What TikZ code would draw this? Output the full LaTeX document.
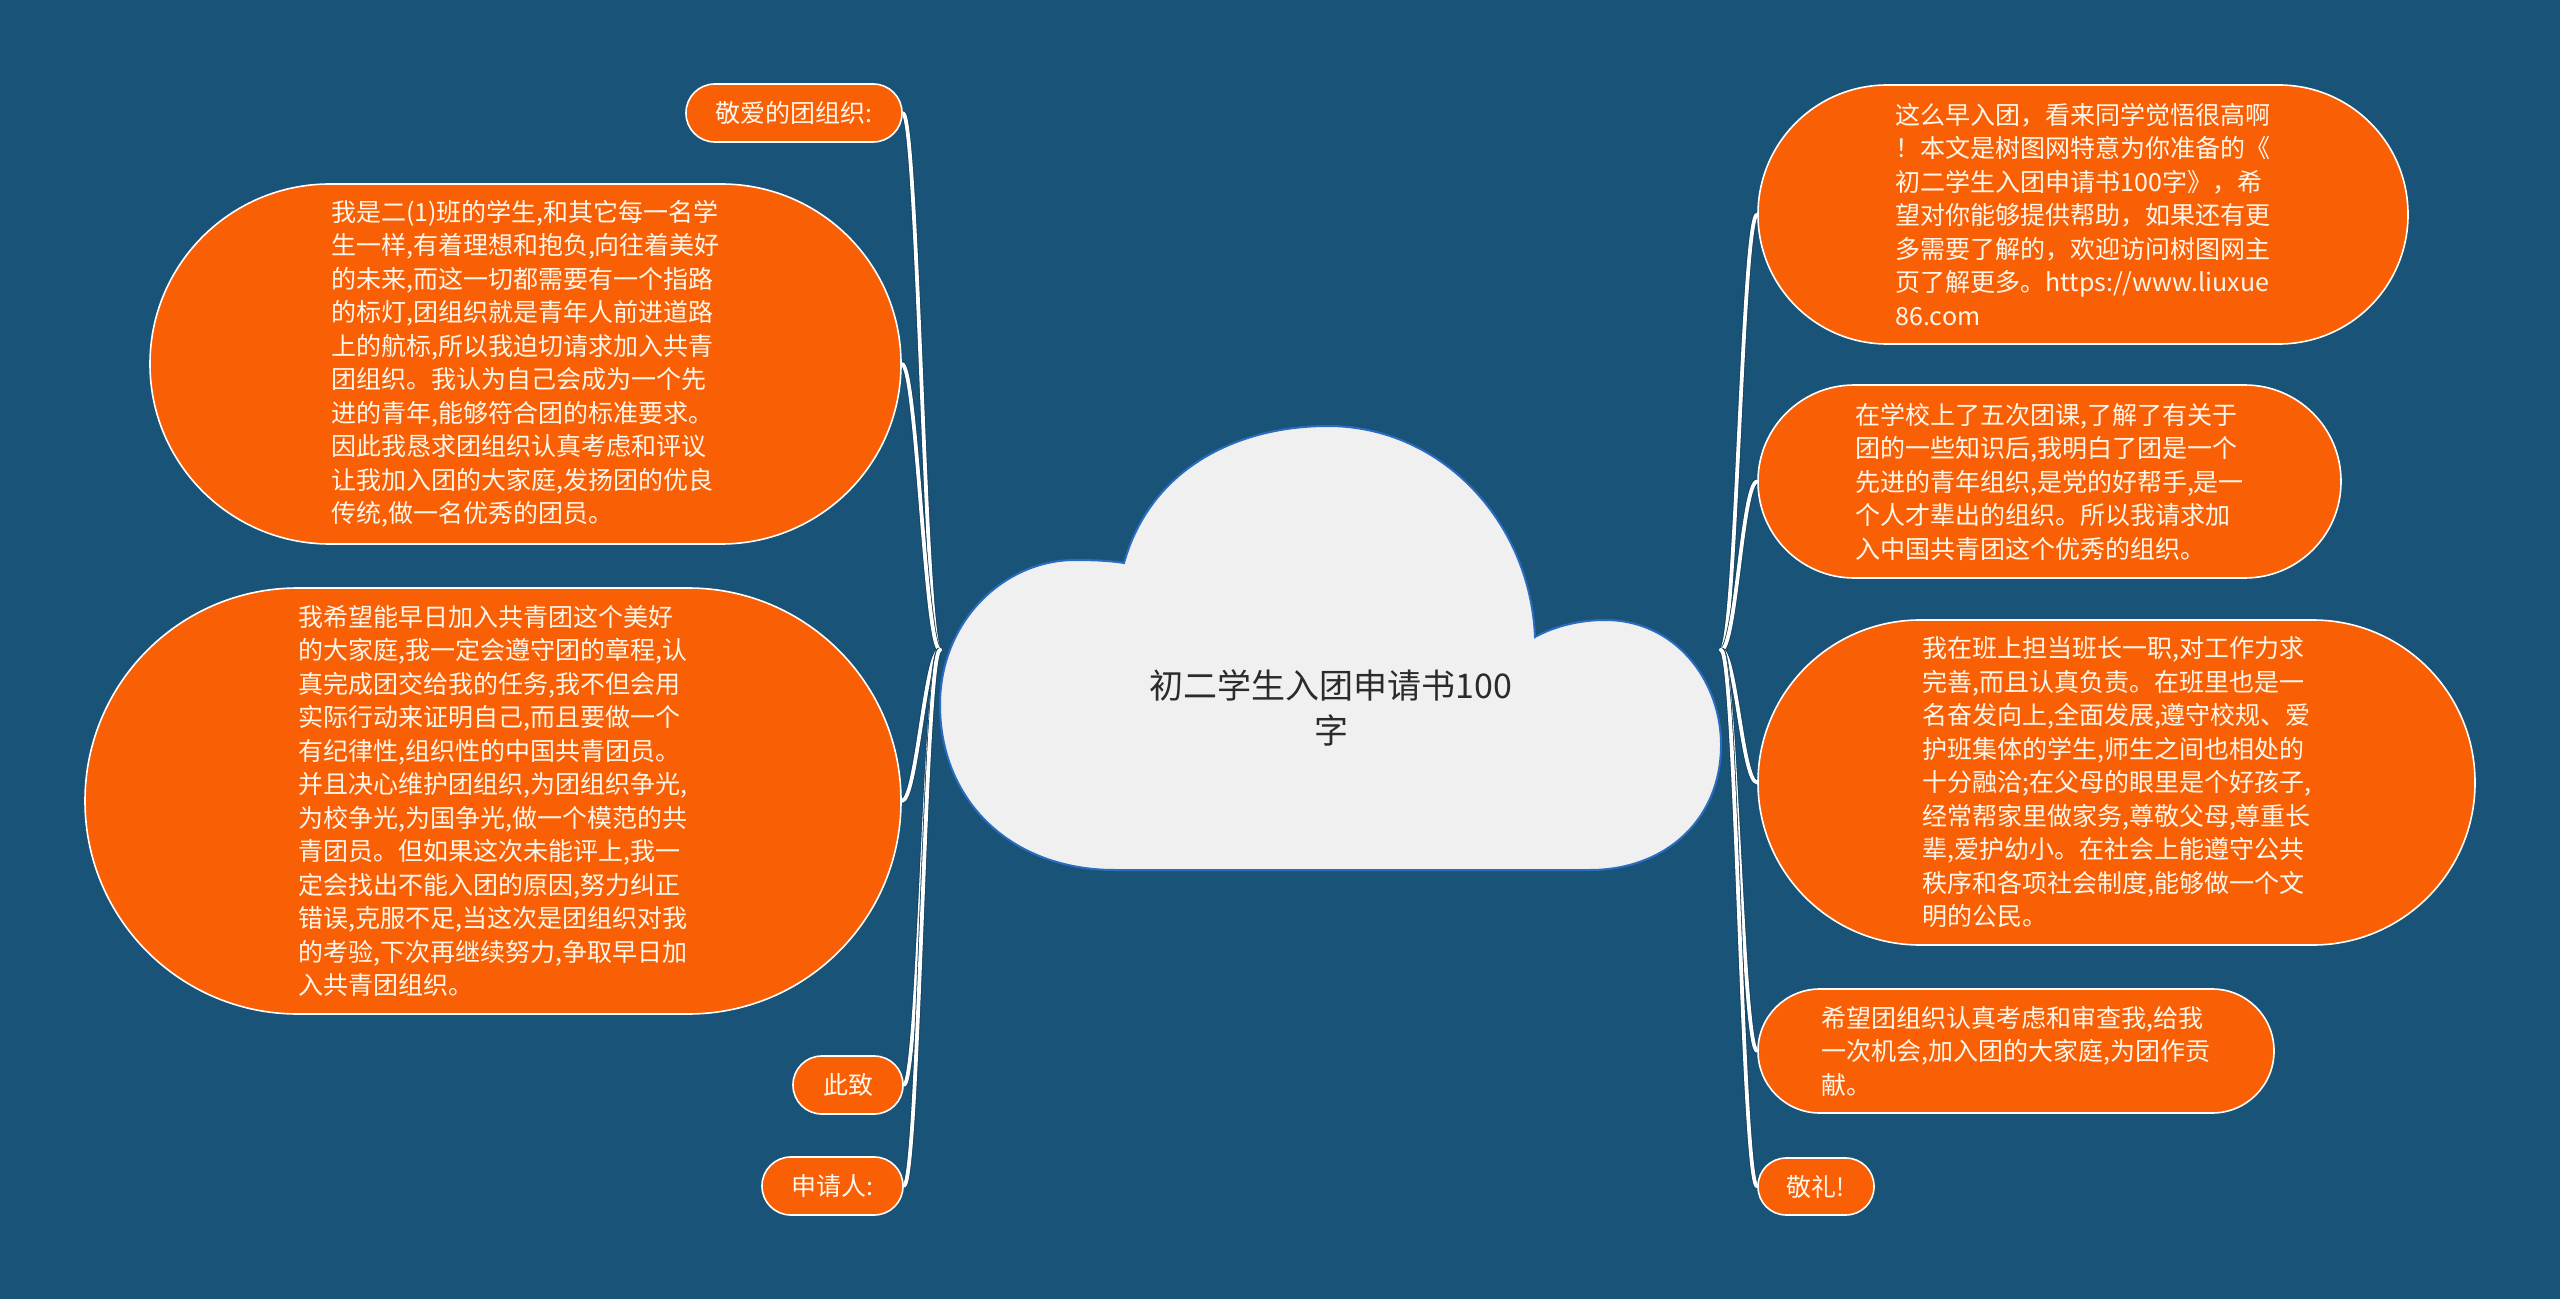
\documentclass[tikz,border=0pt]{standalone}
\usepackage{fontspec}
\setmainfont{Noto Sans CJK SC}
\usetikzlibrary{calc}
\definecolor{bgblue}{HTML}{1A5378}
\definecolor{nodeor}{HTML}{F95F05}
\definecolor{nodetext}{HTML}{FFF6EA}
\definecolor{cloudfill}{HTML}{F0F0F0}
\definecolor{cloudline}{HTML}{2A6CC0}
\definecolor{connedge}{HTML}{123E5C}
\definecolor{roottext}{HTML}{2B2B2B}
\newcommand\mmnodefont{\fontsize{12.5pt}{16.75pt}\selectfont}
\newcommand\mmrootfont{\fontsize{17pt}{22.5pt}\selectfont}
\pgfdeclarelayer{bg}
\pgfsetlayers{bg,main}
\begin{document}
\begin{tikzpicture}[x=0.5pt,y=-0.5pt,
  pill/.style n args={3}{draw=white, line width=0.8pt, fill=nodeor, text=nodetext,
    font=\mmnodefont, align=left, minimum width=#1, minimum height=#2,
    rounded corners=#3, inner sep=0pt},
  conn/.style={draw=white, line width=1.9pt, line cap=round,
    preaction={draw=connedge, line width=2.7pt}},
  cloudst/.style={fill=cloudfill, draw=cloudline, line width=1pt},
  roottxt/.style={text=roottext, font=\mmrootfont, align=center}]
\begin{pgfonlayer}{bg}
\fill[bgblue] (0,0) rectangle (2560,1299);
\end{pgfonlayer}
\useasboundingbox (0,0) rectangle (2560,1299);

% central topic
\node[roottxt] (root) at (1331,708) {初二学生入团申请书100\\字};
\coordinate (jl) at (940,650);
\coordinate (jr) at (1721,650);

% left branches
\node[pill={108pt}{29pt}{14.4pt}] (L0) at (794,113) {敬爱的团组织:};
\node[pill={375.5pt}{180pt}{89.9pt}] (L1) at (525.5,364) {我是二(1)班的学生,和其它每一名学\\生一样,有着理想和抱负,向往着美好\\的未来,而这一切都需要有一个指路\\的标灯,团组织就是青年人前进道路\\上的航标,所以我迫切请求加入共青\\团组织。我认为自己会成为一个先\\进的青年,能够符合团的标准要求。\\因此我恳求团组织认真考虑和评议\\让我加入团的大家庭,发扬团的优良\\传统,做一名优秀的团员。};
\node[pill={408pt}{213pt}{106.4pt}] (L2) at (493,801) {我希望能早日加入共青团这个美好\\的大家庭,我一定会遵守团的章程,认\\真完成团交给我的任务,我不但会用\\实际行动来证明自己,而且要做一个\\有纪律性,组织性的中国共青团员。\\并且决心维护团组织,为团组织争光,\\为校争光,为国争光,做一个模范的共\\青团员。但如果这次未能评上,我一\\定会找出不能入团的原因,努力纠正\\错误,克服不足,当这次是团组织对我\\的考验,下次再继续努力,争取早日加\\入共青团组织。};
\node[pill={55pt}{29pt}{14.4pt}] (L3) at (848,1085) {此致};
\node[pill={70.5pt}{29pt}{14.4pt}] (L4) at (832.5,1186) {申请人:};

% right branches
\node[pill={325pt}{129.5pt}{64.6pt}] (R1) at (2083,214.5) {这么早入团，看来同学觉悟很高啊\\！本文是树图网特意为你准备的《\\初二学生入团申请书100字》，希\\望对你能够提供帮助，如果还有更\\多需要了解的，欢迎访问树图网主\\页了解更多。https://www.liuxue\\86.com};
\node[pill={291.5pt}{96.5pt}{48.1pt}] (R2) at (2049.5,481.5) {在学校上了五次团课,了解了有关于\\团的一些知识后,我明白了团是一个\\先进的青年组织,是党的好帮手,是一\\个人才辈出的组织。所以我请求加\\入中国共青团这个优秀的组织。};
\node[pill={358.5pt}{162.5pt}{81.1pt}] (R3) at (2116.5,782.5) {我在班上担当班长一职,对工作力求\\完善,而且认真负责。在班里也是一\\名奋发向上,全面发展,遵守校规、爱\\护班集体的学生,师生之间也相处的\\十分融洽;在父母的眼里是个好孩子,\\经常帮家里做家务,尊敬父母,尊重长\\辈,爱护幼小。在社会上能遵守公共\\秩序和各项社会制度,能够做一个文\\明的公民。};
\node[pill={258pt}{62pt}{30.9pt}] (R4) at (2016,1051) {希望团组织认真考虑和审查我,给我\\一次机会,加入团的大家庭,为团作贡\\献。};
\node[pill={58pt}{28.5pt}{14.1pt}] (R5) at (1816,1186.5) {敬礼!};

\begin{pgfonlayer}{bg}
% cloud
\draw[cloudst] (1124,563) .. controls (1150,470) and (1235,426) .. (1328,426)
  .. controls (1440,426) and (1530,520) .. (1535,637)
  .. controls (1555,626) and (1580,620) .. (1605,620)
  .. controls (1675,620) and (1721,680) .. (1721,745)
  .. controls (1721,820) and (1665,870) .. (1590,870)
  -- (1115,870)
  .. controls (1010,870) and (940,800) .. (940,705)
  .. controls (940,620) and (1005,560) .. (1075,560)
  .. controls (1095,560) and (1112,561) .. (1124,563) -- cycle;
% connectors
\foreach \n in {L0,L1,L2,L3,L4}
  \draw[conn] (\n.east) .. controls +(15,0) and +(-15,0) .. (jl);
\foreach \n in {R1,R2,R3,R4,R5}
  \draw[conn] (\n.west) .. controls +(-15,0) and +(15,0) .. (jr);
\end{pgfonlayer}
\end{tikzpicture}
\end{document}
